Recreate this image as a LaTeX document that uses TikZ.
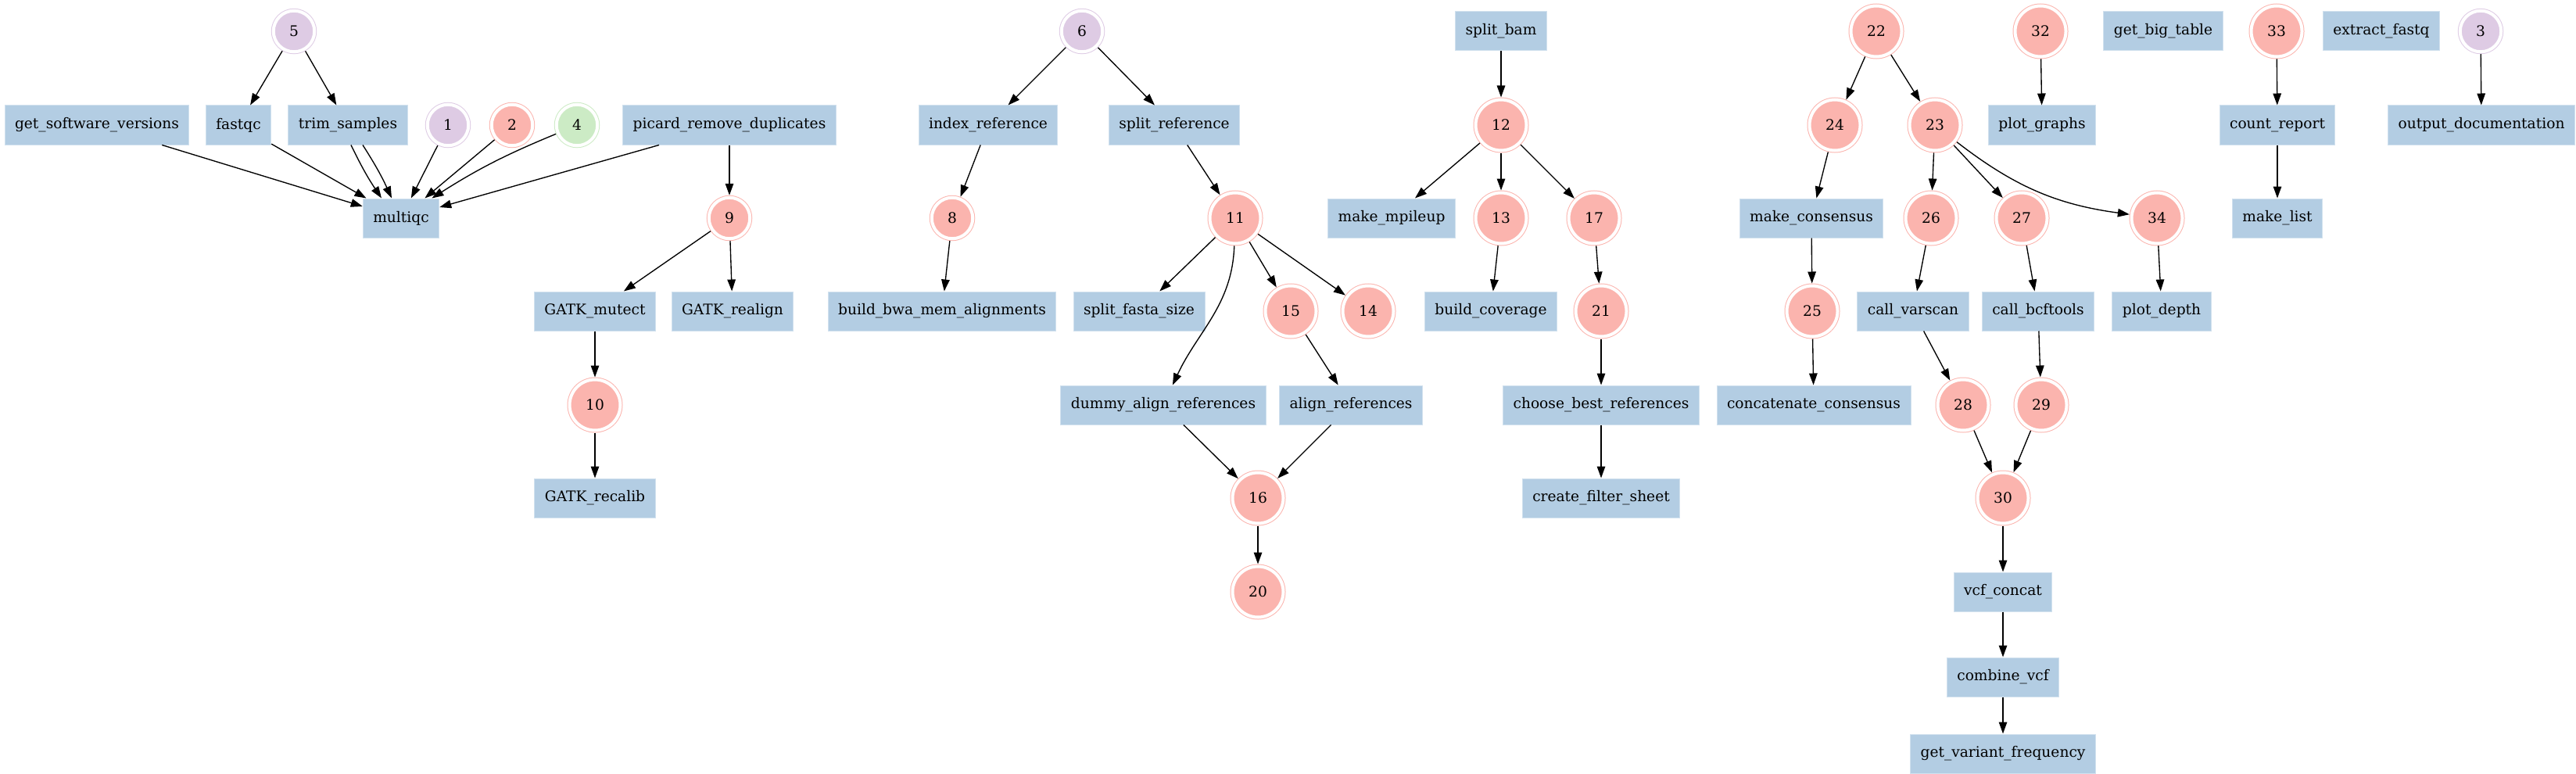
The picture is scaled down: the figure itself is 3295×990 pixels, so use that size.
\documentclass[tikz,border=0pt]{standalone}
\usepackage{fontspec}
\setmainfont{DejaVu Serif}
\usepackage{tikz}
\usetikzlibrary{arrows.meta}
\definecolor{ruleblue}{HTML}{B3CDE3}
\definecolor{jobred}{HTML}{FBB4AE}
\definecolor{jobpurple}{HTML}{DECBE4}
\definecolor{jobgreen}{HTML}{CCEBC5}
\tikzset{
    rule/.style={rectangle, fill=ruleblue, draw=ruleblue!60!white, line width=0.2mm, minimum height=10mm, minimum width=14.4mm, inner xsep=2.6mm, text centered, font=\fontsize{10.6}{12}\selectfont},
    job/.style={circle, fill=jobred, draw=jobred, double=white, double distance=0.8mm, line width=0.2mm, minimum size=10.5mm, inner sep=0pt, outer sep=0.6mm, font=\fontsize{10.6}{12}\selectfont},
    bigjob/.style={job, minimum size=13mm},
    purplejob/.style={job, fill=jobpurple, draw=jobpurple},
    greenjob/.style={job, fill=jobgreen, draw=jobgreen},
    arrow/.style={line width=0.27mm, -{Triangle[length=3mm, width=2.1mm]}}
}

\begin{document}
\begin{tikzpicture}[x=0.2mm, y=-0.2mm]
    \useasboundingbox (0,0) rectangle (3295,990);
    % Nodes
    \node (job5) [purplejob] at (376,40) {5};
    \node (softVersions) [rule] at (124,160) {get\_software\_versions};
    \node (fastqc) [rule] at (305,160) {fastqc};
    \node (trimSamples) [rule] at (445,160) {trim\_samples};
    \node (job1) [purplejob] at (573,160) {1};
    \node (job2) [job] at (655,160) {2};
    \node (job4) [greenjob] at (738,160) {4};
    \node (picard) [rule] at (933,160) {picard\_remove\_duplicates};
    \node (multiqc) [rule] at (513,279) {multiqc};
    \node (job9) [job] at (933,279) {9};
    \node (gatkMutect) [rule] at (761,398) {GATK\_mutect};
    \node (gatkRealign) [rule] at (937,398) {GATK\_realign};
    \node (job10) [bigjob] at (761,518) {10};
    \node (gatkRecalib) [rule] at (761,637) {GATK\_recalib};

    \node (job6) [purplejob] at (1384,40) {6};
    \node (indexRef) [rule] at (1264,160) {index\_reference};
    \node (splitRef) [rule] at (1502,160) {split\_reference};
    \node (job8) [job] at (1218,279) {8};
    \node (job11) [bigjob] at (1580,279) {11};
    \node (bwaMem) [rule] at (1205,398) {build\_bwa\_mem\_alignments};
    \node (splitFasta) [rule] at (1457,398) {split\_fasta\_size};
    \node (job15) [bigjob] at (1651,398) {15};
    \node (job14) [bigjob] at (1750,398) {14};
    \node (dummyAlign) [rule] at (1488,518) {dummy\_align\_references};
    \node (alignRefs) [rule] at (1728,518) {align\_references};
    \node (job16) [bigjob] at (1609,637) {16};
    \node (job20) [bigjob] at (1609,757) {20};

    \node (splitBam) [rule] at (1920,40) {split\_bam};
    \node (job12) [bigjob] at (1920,160) {12};
    \node (mpileup) [rule] at (1780,279) {make\_mpileup};
    \node (job13) [bigjob] at (1920,279) {13};
    \node (job17) [bigjob] at (2039,279) {17};
    \node (coverage) [rule] at (1907,398) {build\_coverage};
    \node (job21) [bigjob] at (2048,398) {21};
    \node (bestRefs) [rule] at (2048,518) {choose\_best\_references};
    \node (filterSheet) [rule] at (2048,637) {create\_filter\_sheet};

    \node (job22) [bigjob] at (2400,40) {22};
    \node (job32) [bigjob] at (2610,40) {32};
    \node (bigTable) [rule] at (2767,40) {get\_big\_table};
    \node (job33) [bigjob] at (2912,40) {33};
    \node (extractFastq) [rule] at (3046,40) {extract\_fastq};
    \node (job3) [purplejob] at (3173,40) {3};
    \node (job24) [bigjob] at (2347,160) {24};
    \node (job23) [bigjob] at (2475,160) {23};
    \node (plotGraphs) [rule] at (2612,160) {plot\_graphs};
    \node (countReport) [rule] at (2913,160) {count\_report};
    \node (outputDoc) [rule] at (3174,160) {output\_documentation};
    \node (consensus) [rule] at (2317,279) {make\_consensus};
    \node (job26) [bigjob] at (2470,279) {26};
    \node (job27) [bigjob] at (2586,279) {27};
    \node (job34) [bigjob] at (2759,279) {34};
    \node (makeList) [rule] at (2913,279) {make\_list};
    \node (job25) [bigjob] at (2318,398) {25};
    \node (varscan) [rule] at (2447,398) {call\_varscan};
    \node (bcftools) [rule] at (2607,398) {call\_bcftools};
    \node (plotDepth) [rule] at (2765,398) {plot\_depth};
    \node (concatConsensus) [rule] at (2320,518) {concatenate\_consensus};
    \node (job28) [bigjob] at (2511,518) {28};
    \node (job29) [bigjob] at (2611,518) {29};
    \node (job30) [bigjob] at (2562,637) {30};
    \node (vcfConcat) [rule] at (2562,757) {vcf\_concat};
    \node (combineVcf) [rule] at (2562,866) {combine\_vcf};
    \node (variantFreq) [rule] at (2562,964) {get\_variant\_frequency};

    % Arrows
    \draw [arrow] (job5) -- (fastqc);
    \draw [arrow] (job5) -- (trimSamples);
    \draw [arrow] (softVersions) -- (multiqc);
    \draw [arrow] (fastqc) -- (multiqc);
    \draw [arrow] ([xshift=0.8mm]trimSamples.south) to[bend right=4] ([xshift=-5mm]multiqc.north);
    \draw [arrow] ([xshift=3.8mm]trimSamples.south) to[bend left=4] ([xshift=-2.4mm]multiqc.north);
    \draw [arrow] (job1) -- (multiqc);
    \draw [arrow] (job2) -- (multiqc);
    \draw [arrow] (job4) to[bend right=5] (multiqc);
    \draw [arrow] (picard) -- (multiqc);
    \draw [arrow] (picard) -- (job9);
    \draw [arrow] (job9) -- (gatkMutect);
    \draw [arrow] (job9) -- (gatkRealign);
    \draw [arrow] (gatkMutect) -- (job10);
    \draw [arrow] (job10) -- (gatkRecalib);

    \draw [arrow] (job6) -- (indexRef);
    \draw [arrow] (job6) -- (splitRef);
    \draw [arrow] (indexRef) -- (job8);
    \draw [arrow] (job8) -- (bwaMem);
    \draw [arrow] (splitRef) -- (job11);
    \draw [arrow] (job11) -- (splitFasta);
    \draw [arrow] (job11) to[out=-92, in=65] (dummyAlign);
    \draw [arrow] (job11) -- (job15);
    \draw [arrow] (job11) -- (job14);
    \draw [arrow] (job15) -- (alignRefs);
    \draw [arrow] (dummyAlign) -- (job16);
    \draw [arrow] (alignRefs) -- (job16);
    \draw [arrow] (job16) -- (job20);

    \draw [arrow] (splitBam) -- (job12);
    \draw [arrow] (job12) -- (mpileup);
    \draw [arrow] (job12) -- (job13);
    \draw [arrow] (job12) -- (job17);
    \draw [arrow] (job13) -- (coverage);
    \draw [arrow] (job17) -- (job21);
    \draw [arrow] (job21) -- (bestRefs);
    \draw [arrow] (bestRefs) -- (filterSheet);

    \draw [arrow] (job22) -- (job24);
    \draw [arrow] (job22) -- (job23);
    \draw [arrow] (job24) -- (consensus);
    \draw [arrow] (consensus) -- (job25);
    \draw [arrow] (job25) -- (concatConsensus);
    \draw [arrow] (job23) -- (job26);
    \draw [arrow] (job23) -- (job27);
    \draw [arrow] (job23) to[bend right=15] (job34);
    \draw [arrow] (job26) -- (varscan);
    \draw [arrow] (job27) -- (bcftools);
    \draw [arrow] (job34) -- (plotDepth);
    \draw [arrow] (varscan) -- (job28);
    \draw [arrow] (bcftools) -- (job29);
    \draw [arrow] (job28) -- (job30);
    \draw [arrow] (job29) -- (job30);
    \draw [arrow] (job30) -- (vcfConcat);
    \draw [arrow] (vcfConcat) -- (combineVcf);
    \draw [arrow] (combineVcf) -- (variantFreq);
    \draw [arrow] (job32) -- (plotGraphs);
    \draw [arrow] (job33) -- (countReport);
    \draw [arrow] (countReport) -- (makeList);
    \draw [arrow] (job3) -- (outputDoc);
\end{tikzpicture}
\end{document}
